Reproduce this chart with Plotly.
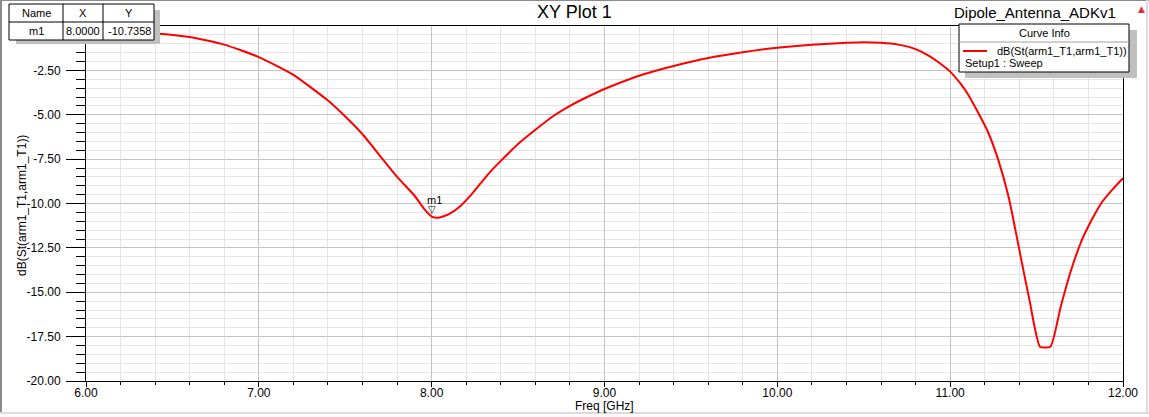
import plotly.graph_objects as go

# ---- data ----
freq_ghz = [6.0, 6.2, 6.4, 6.6, 6.8, 7.0, 7.2, 7.4, 7.5, 7.6, 7.7, 7.8, 7.9, 7.96,
            8.0, 8.04, 8.1, 8.16, 8.22, 8.28, 8.34, 8.4, 8.5, 8.6, 8.7, 8.8, 8.9,
            9.0, 9.2, 9.4, 9.6, 9.8, 10.0, 10.2, 10.4, 10.5, 10.6, 10.7, 10.8,
            10.88, 10.94, 11.0, 11.06, 11.1, 11.16, 11.22, 11.28, 11.34, 11.4,
            11.46, 11.52, 11.58, 11.64, 11.7, 11.76, 11.82, 11.88, 11.94, 12.0]
s11_db = [-0.30, -0.33, -0.42, -0.62, -1.05, -1.75, -2.75, -4.2, -5.1, -6.1, -7.3,
          -8.5, -9.55, -10.35, -10.74, -10.8, -10.6, -10.2, -9.6, -8.9, -8.2, -7.6,
          -6.65, -5.85, -5.1, -4.5, -4.0, -3.55, -2.8, -2.25, -1.8, -1.48, -1.22,
          -1.05, -0.95, -0.92, -0.95, -1.05, -1.3, -1.7, -2.1, -2.57, -3.25, -3.8,
          -4.85, -6.0, -7.6, -9.7, -12.6, -15.5, -18.07, -18.07, -15.8, -13.75,
          -12.1, -10.9, -9.9, -9.2, -8.58]
marker_name = "m1"
marker_x = 8.0
marker_y = -10.7358
y_tick_vals = [-20.0, -17.5, -15.0, -12.5, -10.0, -7.5, -5.0, -2.5]
x_tick_vals = [6.0, 7.0, 8.0, 9.0, 10.0, 11.0, 12.0]

FONT = "Liberation Sans, Arial, sans-serif"
W, H = 1149, 417
L, R, T, B = 86, 1123, 26, 381   # plot area in pixels


def px(x):
    return (x - L) / (R - L)


def py(y):
    return (B - y) / (B - T)


fig = go.Figure()
fig.add_trace(go.Scatter(x=freq_ghz, y=s11_db, mode="lines",
                         line=dict(color="#ff0000", width=2, shape="spline", smoothing=0.5),
                         showlegend=False, hoverinfo="skip"))

shapes = []
ann = []

# marker m1
ann.append(dict(x=marker_x, y=marker_y, xref="x", yref="y", text="▽", showarrow=False,
                font=dict(family="DejaVu Sans", size=10, color="black"), yshift=7))
ann.append(dict(x=marker_x, y=marker_y, xref="x", yref="y", text=marker_name, showarrow=False,
                font=dict(family=FONT, size=11, color="black"), yshift=17, xshift=3))

# ---- marker table (top-left) ----
shapes.append(dict(type="rect", xref="paper", yref="paper", x0=px(16), x1=px(160),
                   y0=py(44), y1=py(10), fillcolor="#c0c0c0", line=dict(width=0), layer="above"))
shapes.append(dict(type="rect", xref="paper", yref="paper", x0=px(9), x1=px(154),
                   y0=py(40), y1=py(4), fillcolor="white", line=dict(color="black", width=1), layer="above"))
shapes.append(dict(type="line", xref="paper", yref="paper", x0=px(9), x1=px(154),
                   y0=py(22), y1=py(22), line=dict(color="black", width=1), layer="above"))
for cx in (63, 103):
    shapes.append(dict(type="line", xref="paper", yref="paper", x0=px(cx), x1=px(cx),
                       y0=py(4), y1=py(40), line=dict(color="black", width=1), layer="above"))
for txt, cx, cy in [("Name", 36, 13), ("X", 83, 13), ("Y", 129, 13),
                    (marker_name, 36, 31), (f"{marker_x:.4f}", 83, 31), (f"{marker_y:.4f}", 129, 31)]:
    ann.append(dict(x=px(cx), y=py(cy), xref="paper", yref="paper", text=txt, showarrow=False,
                    xanchor="center", yanchor="middle", font=dict(family=FONT, size=11, color="black")))

# ---- curve info box (top-right) ----
shapes.append(dict(type="rect", xref="paper", yref="paper", x0=px(965), x1=px(1137),
                   y0=py(78), y1=py(30), fillcolor="#c0c0c0", line=dict(width=0), layer="above"))
shapes.append(dict(type="rect", xref="paper", yref="paper", x0=px(959), x1=px(1129),
                   y0=py(72), y1=py(24), fillcolor="white", line=dict(color="black", width=1), layer="above"))
shapes.append(dict(type="line", xref="paper", yref="paper", x0=px(959), x1=px(1129),
                   y0=py(42), y1=py(42), line=dict(color="#a0a0a0", width=1), layer="above"))
shapes.append(dict(type="line", xref="paper", yref="paper", x0=px(963), x1=px(987),
                   y0=py(51), y1=py(51), line=dict(color="#ff0000", width=2), layer="above"))
ann.append(dict(x=px(1044), y=py(33), xref="paper", yref="paper", text="Curve Info", showarrow=False,
                xanchor="center", yanchor="middle", font=dict(family=FONT, size=11, color="black")))
ann.append(dict(x=px(995), y=py(51), xref="paper", yref="paper", text="dB(St(arm1_T1,arm1_T1))",
                showarrow=False, xanchor="left", yanchor="middle",
                font=dict(family=FONT, size=11, color="black")))
ann.append(dict(x=px(963), y=py(63), xref="paper", yref="paper", text="Setup1 : Sweep",
                showarrow=False, xanchor="left", yanchor="middle",
                font=dict(family=FONT, size=11, color="black")))

# ---- titles ----
ann.append(dict(x=px(574), y=py(12), xref="paper", yref="paper", text="XY Plot 1", showarrow=False,
                xanchor="center", yanchor="middle", font=dict(family=FONT, size=18, color="black")))
ann.append(dict(x=px(1035), y=py(12), xref="paper", yref="paper", text="Dipole_Antenna_ADKv1",
                showarrow=False, xanchor="center", yanchor="middle",
                font=dict(family=FONT, size=15, color="black")))
ann.append(dict(x=px(1141), y=py(9), xref="paper", yref="paper", text="▲", showarrow=False,
                xanchor="center", yanchor="middle", font=dict(family="DejaVu Sans", size=9, color="#e03030")))
ann.append(dict(x=px(22), y=py(206), xref="paper", yref="paper", text="dB(St(arm1_T1,arm1_T1))",
                showarrow=False, textangle=-90, xanchor="center", yanchor="middle",
                font=dict(family=FONT, size=12, color="black")))
ann.append(dict(x=px(604), y=py(406), xref="paper", yref="paper", text="Freq [GHz]",
                showarrow=False, xanchor="center", yanchor="middle",
                font=dict(family=FONT, size=12, color="black")))

# ---- window frame ----
shapes.append(dict(type="line", xref="paper", yref="paper", x0=px(1), x1=px(1), y0=py(0), y1=py(413),
                   line=dict(color="#8a8a8a", width=2), layer="above"))
shapes.append(dict(type="line", xref="paper", yref="paper", x0=px(0), x1=px(1149), y0=py(0.5), y1=py(0.5),
                   line=dict(color="#8a8a8a", width=1), layer="above"))
shapes.append(dict(type="line", xref="paper", yref="paper", x0=px(0), x1=px(1149), y0=py(413), y1=py(413),
                   line=dict(color="#dcdcdc", width=2), layer="above"))
shapes.append(dict(type="line", xref="paper", yref="paper", x0=px(1147), x1=px(1147), y0=py(0), y1=py(413),
                   line=dict(color="#dcdcdc", width=2), layer="above"))

fig.update_layout(
    width=W, height=H,
    margin=dict(l=L, r=W - R, t=T, b=H - B),
    paper_bgcolor="white", plot_bgcolor="white",
    font=dict(family=FONT, size=12, color="black"),
    shapes=shapes, annotations=ann, showlegend=False,
    xaxis=dict(range=[6, 12], tickvals=x_tick_vals, ticktext=[f"{v:.2f}" for v in x_tick_vals],
               ticks="outside", ticklen=5, tickcolor="black", tickwidth=1,
               ticklabelstandoff=-4,
               showline=True, linecolor="black", linewidth=1, mirror=True,
               showgrid=True, gridcolor="#c4c4c4", gridwidth=1, zeroline=False,
               tickfont=dict(family=FONT, size=12, color="black"),
               minor=dict(tick0=6, dtick=0.2, ticks="outside", ticklen=3, tickcolor="black",
                          showgrid=True, gridcolor="#e4e4e4", gridwidth=1)),
    yaxis=dict(range=[-20, 0], tickvals=y_tick_vals, ticktext=[f"{v:.2f}" for v in y_tick_vals],
               ticks="outside", ticklen=19, tickcolor="black", tickwidth=1,
               ticklabelstandoff=3,
               showline=True, linecolor="black", linewidth=1, mirror=True,
               showgrid=True, gridcolor="#c4c4c4", gridwidth=1, zeroline=False,
               tickfont=dict(family=FONT, size=12, color="black"),
               minor=dict(tick0=0, dtick=0.5, ticks="outside", ticklen=9, tickcolor="black",
                          showgrid=True, gridcolor="#e4e4e4", gridwidth=1)),
)

fig.write_html("out.html", config={"displayModeBar": False},
               post_script="document.body.style.margin='0';document.body.style.overflow='hidden';")
